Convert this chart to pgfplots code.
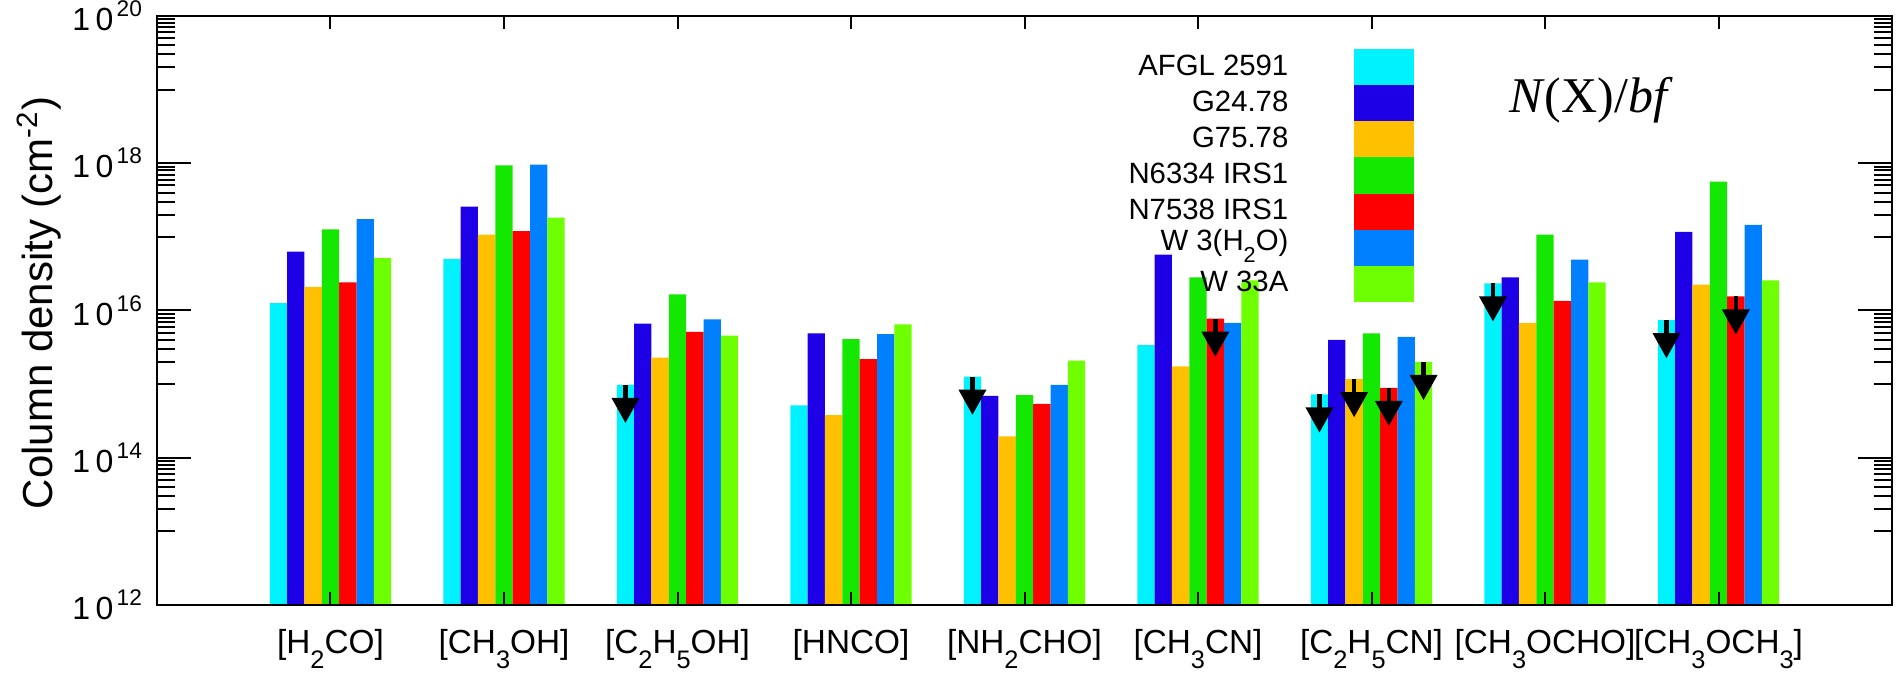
\documentclass[border=0pt]{standalone}
\usepackage{pgfplots}
\pgfplotsset{compat=1.18}
\usepackage{pgfplotstable}
\usepackage{fontspec}
\setmainfont{Liberation Sans}
\newfontfamily\seriffont{Liberation Serif}
\definecolor{cA}{RGB}{0,242,255}
\definecolor{cB}{RGB}{30,0,230}
\definecolor{cC}{RGB}{255,192,0}
\definecolor{cD}{RGB}{20,232,0}
\definecolor{cE}{RGB}{255,0,0}
\definecolor{cF}{RGB}{0,128,255}
\definecolor{cG}{RGB}{110,255,0}

\pgfplotstableread{
x afgl g24 g75 n6334 n7538 w3 w33
1 1.26e16 6.31e16 2.09e16 1.26e17 2.40e16 1.74e17 5.13e16
2 5.01e16 2.57e17 1.07e17 9.33e17 1.20e17 9.55e17 1.82e17
3 9.77e14 6.61e15 2.29e15 1.66e16 5.13e15 7.59e15 4.57e15
4 5.13e14 4.90e15 3.80e14 4.07e15 2.19e15 4.79e15 6.46e15
5 1.26e15 6.92e14 1.95e14 7.08e14 5.37e14 9.77e14 2.09e15
6 3.39e15 5.75e16 1.74e15 2.82e16 7.76e15 6.76e15 2.57e16
7 7.24e14 3.98e15 1.17e15 4.90e15 8.91e14 4.37e15 2.00e15
8 2.34e16 2.82e16 6.76e15 1.07e17 1.35e16 4.90e16 2.40e16
9 7.41e15 1.17e17 2.24e16 5.62e17 1.55e16 1.45e17 2.57e16
}\coldens

\pgfplotstableread{
x y
2.7 9.77e14
4.7 1.26e15
6.1 7.76e15
6.7 7.24e14
6.9 1.17e15
7.1 8.91e14
7.3 2.00e15
7.7 2.34e16
8.7 7.41e15
9.1 1.55e16
}\uplims

\pgfdeclareplotmark{uplim}{%
  \pgfsetlinewidth{1.3pt}%
  \pgfpathmoveto{\pgfpoint{0pt}{0pt}}%
  \pgfpathlineto{\pgfpoint{0pt}{-5pt}}%
  \pgfusepathqstroke
  \pgfpathmoveto{\pgfpoint{-4.2pt}{-3.9pt}}%
  \pgfpathlineto{\pgfpoint{4.2pt}{-3.9pt}}%
  \pgfpathlineto{\pgfpoint{0pt}{-11.4pt}}%
  \pgfpathclose
  \pgfusepathqfill
}

\newcommand\sub[1]{\raisebox{-4.6pt}{\fontsize{7.6}{8}\selectfont #1}}
\newcommand\tl[1]{1\kern1.6pt0\kern1pt\raisebox{4.2pt}{\fontsize{6.8}{7}\selectfont #1}}

\begin{document}
\begin{tikzpicture}
\begin{axis}[
  at={(0,0)}, anchor=south west, scale only axis,
  width=520.5pt, height=176.7pt,
  xmin=0, xmax=10, ymin=1e12, ymax=1e20,
  ymode=log, log origin=infty,
  xtick={1,2,3,4,5,6,7,8,9},
  xticklabels={{[H\sub{2}CO]},{[CH\sub{3}OH]},{[C\sub{2}H\sub{5}OH]},{[HNCO]},{[NH\sub{2}CHO]},{[CH\sub{3}CN]},{[C\sub{2}H\sub{5}CN]},{[CH\sub{3}OCHO]},{[CH\sub{3}OCH\sub{3}]}},
  ytick={1e12,1e14,1e16,1e18,1e20},
  yticklabels={\tl{12},\tl{14},\tl{16},\tl{18},\tl{20}},
  minor ytick={1e13,2e13,3e13,4e13,5e13,6e13,7e13,8e13,9e13,
               1e15,2e15,3e15,4e15,5e15,6e15,7e15,8e15,9e15,
               1e17,2e17,3e17,4e17,5e17,6e17,7e17,8e17,9e17,
               1e19,2e19,3e19,4e19,5e19,6e19,7e19,8e19,9e19},
  major tick length=10.2pt, minor tick length=5.4pt,
  xtick style={/pgfplots/major tick length=4pt},
  tick style={black, line width=0.6pt},
  axis line style={line width=0.75pt},
  axis on top,
  bar width=0.1,
  xticklabel style={font=\fontsize{10}{12}\selectfont, yshift=-3.8pt},
  yticklabel style={font=\fontsize{9.6}{11}\selectfont, xshift=-1pt},
  ylabel={Column density (cm\textsuperscript{-2})},
  every axis y label/.style={at={(axis description cs:-0.068,0.513)}, anchor=center, rotate=90, font=\fontsize{12.6}{14}\selectfont},
]
\addplot[ybar, bar shift=-0.3, fill=cA, draw=none] table[x=x, y=afgl] {\coldens};
\addplot[ybar, bar shift=-0.2, fill=cB, draw=none] table[x=x, y=g24] {\coldens};
\addplot[ybar, bar shift=-0.1, fill=cC, draw=none] table[x=x, y=g75] {\coldens};
\addplot[ybar, bar shift=0, fill=cD, draw=none] table[x=x, y=n6334] {\coldens};
\addplot[ybar, bar shift=0.1, fill=cE, draw=none] table[x=x, y=n7538] {\coldens};
\addplot[ybar, bar shift=0.2, fill=cF, draw=none] table[x=x, y=w3] {\coldens};
\addplot[ybar, bar shift=0.3, fill=cG, draw=none] table[x=x, y=w33] {\coldens};
\addplot[only marks, mark=uplim, black] table[x=x, y=y] {\uplims};
\end{axis}
% legend
\foreach \c/\t [count=\i from 0] in {cA/AFGL 2591, cB/G24.78, cC/G75.78, cD/N6334 IRS1, cE/N7538 IRS1, cF/{W 3(H\raisebox{-3.5pt}{\fontsize{6.5}{7}\selectfont 2}O)}, cG/W 33A}{
  \fill[\c] (359.1pt,{166.8pt-10.84pt*\i}) rectangle (377.1pt,{166.8pt-10.84pt*(\i+1)});
  \node[anchor=east, inner sep=0pt, font=\fontsize{8.8}{9}\selectfont] at (339.6pt,{166.8pt-10.84pt*(\i+0.5)+0.6pt}) {\t};
}
\node[inner sep=0pt, font=\seriffont\fontsize{15}{17}\selectfont] at (430.2pt,151.5pt) {\textit{N}(X)/\textit{bf}};
\pgfresetboundingbox
\useasboundingbox (-47.1pt,-20.7pt) rectangle (523.2pt,181.5pt);
\end{tikzpicture}
\end{document}
